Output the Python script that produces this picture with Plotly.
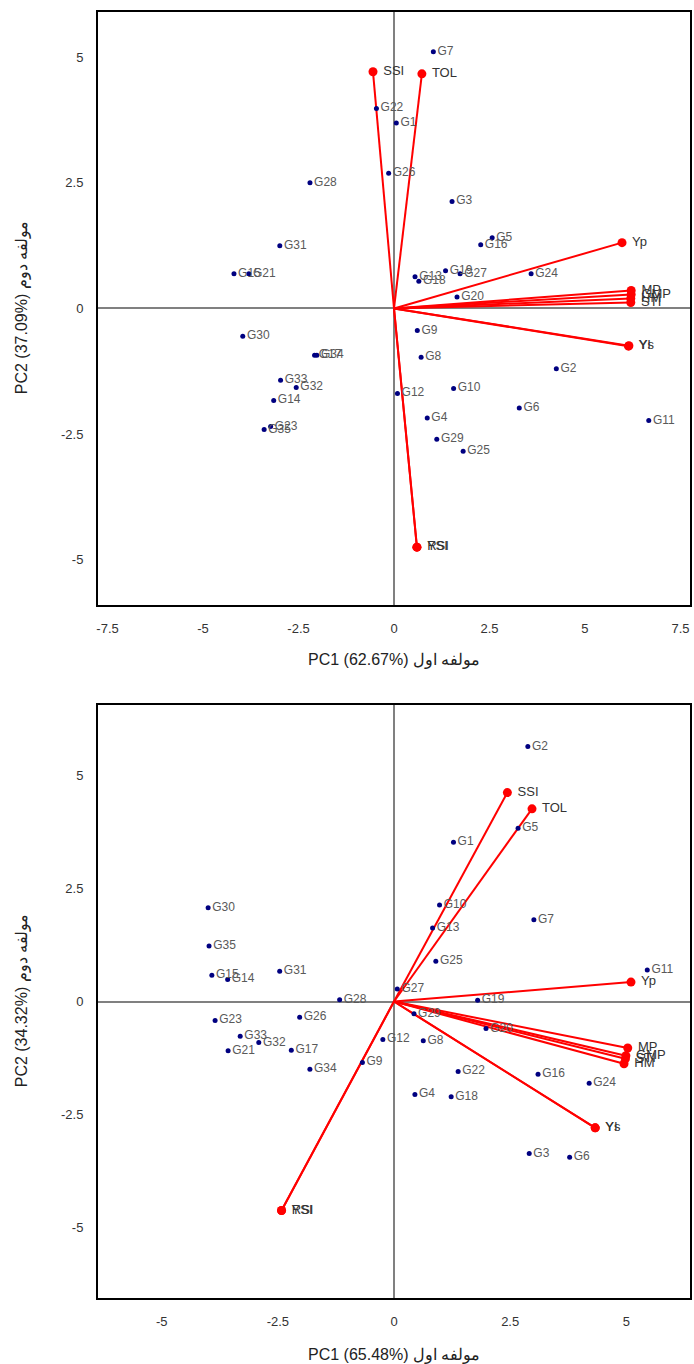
import plotly.graph_objects as go

# ---------------- data: top biplot ----------------
geno_names = ["G%d" % i for i in range(1, 36)]
top_pc1 = [0.06, 4.25, 1.52, 0.87, 2.57, 3.28, 1.03, 0.71, 0.61, 1.56,
           6.67, 0.09, 0.55, -3.15, -4.19, 2.27, -2.08, 0.65, 1.35, 1.65,
           -3.80, -0.46, -3.23, 3.59, 1.81, -0.14, 1.73, -2.20, 1.12, -3.96,
           -2.99, -2.56, -2.97, -2.02, -3.40]
top_pc2 = [3.69, -1.20, 2.13, -2.18, 1.41, -1.98, 5.11, -0.97, -0.44, -1.59,
           -2.23, -1.69, 0.63, -1.83, 0.69, 1.27, -0.93, 0.54, 0.75, 0.23,
           0.69, 3.98, -2.35, 0.69, -2.84, 2.69, 0.69, 2.50, -2.60, -0.55,
           1.25, -1.57, -1.43, -0.93, -2.41]

var_names = ["Yp", "Ys", "YI", "TOL", "SSI", "MP", "GMP", "HM", "STI", "YSI", "RSI"]
top_var_pc1 = [5.97, 6.15, 6.14, 0.73, -0.55, 6.21, 6.21, 6.20, 6.20, 0.60, 0.60]
top_var_pc2 = [1.31, -0.74, -0.75, 4.67, 4.71, 0.36, 0.28, 0.20, 0.12, -4.75, -4.75]

# ---------------- data: bottom biplot ----------------
bot_pc1 = [1.28, 2.88, 2.91, 0.45, 2.67, 3.78, 3.01, 0.63, -0.68, 0.98,
           5.45, -0.24, 0.83, -3.58, -3.92, 3.10, -2.21, 1.23, 1.80, 1.98,
           -3.57, 1.38, -3.85, 4.20, 0.90, -2.03, 0.07, -1.17, 0.43, -4.00,
           -2.46, -2.91, -3.31, -1.81, -3.98]
bot_pc2 = [3.53, 5.65, -3.37, -2.06, 3.84, -3.45, 1.81, -0.87, -1.35, 2.14,
           0.70, -0.84, 1.63, 0.49, 0.58, -1.61, -1.08, -2.11, 0.03, -0.60,
           -1.09, -1.55, -0.42, -1.81, 0.89, -0.35, 0.28, 0.04, -0.27, 2.08,
           0.67, -0.91, -0.77, -1.50, 1.23]

bot_var_pc1 = [5.10, 4.33, 4.33, 2.97, 2.44, 5.03, 4.99, 4.95, 4.98, -2.42, -2.42]
bot_var_pc2 = [0.43, -2.80, -2.80, 4.27, 4.63, -1.03, -1.20, -1.38, -1.27, -4.63, -4.63]

top_xticks = [-7.5, -5, -2.5, 0, 2.5, 5, 7.5]
top_xticktext = ["-7.5", "-5", "-2.5", "0", "2.5", "5", "7.5"]
top_yticks = [-5, -2.5, 0, 2.5, 5]
top_yticktext = ["-5", "-2.5", "0", "2.5", "5"]
bot_xticks = [-5, -2.5, 0, 2.5, 5]
bot_xticktext = ["-5", "-2.5", "0", "2.5", "5"]
bot_yticks = [-5, -2.5, 0, 2.5, 5]
bot_yticktext = ["-5", "-2.5", "0", "2.5", "5"]

top_xtitle = "PC1 (62.67%) مولفه اول"
top_ytitle = "PC2 (37.09%) مولفه دوم"
bot_xtitle = "PC1 (65.48%) مولفه اول"
bot_ytitle = "PC2 (34.32%) مولفه دوم"

FONT = "Liberation Sans Narrow, Liberation Sans, Arial, sans-serif"
RED = "#ff0000"
NAVY = "#000080"

fig = go.Figure()


def add_biplot(xa, ya, gx, gy, vx, vy):
    lx, ly = [], []
    for a, b in zip(vx, vy):
        lx += [0, a, None]
        ly += [0, b, None]
    fig.add_trace(go.Scatter(x=lx, y=ly, mode="lines", xaxis=xa, yaxis=ya,
                             line=dict(color=RED, width=2), hoverinfo="skip",
                             showlegend=False))
    fig.add_trace(go.Scatter(x=gx, y=gy, mode="markers+text", text=geno_names,
                             textposition="middle right", xaxis=xa, yaxis=ya,
                             marker=dict(color=NAVY, size=5),
                             textfont=dict(family="Liberation Sans, Arial", size=12, color="#595959"),
                             showlegend=False))
    fig.add_trace(go.Scatter(x=vx, y=vy, mode="markers+text",
                             text=[" " + v for v in var_names],
                             textposition="middle right", xaxis=xa, yaxis=ya,
                             marker=dict(color=RED, size=9),
                             textfont=dict(family="Liberation Sans, Arial", size=13, color="#333333"),
                             showlegend=False))


add_biplot("x", "y", top_pc1, top_pc2, top_var_pc1, top_var_pc2)
add_biplot("x2", "y2", bot_pc1, bot_pc2, bot_var_pc1, bot_var_pc2)

ax_common = dict(showgrid=False, zeroline=True, zerolinecolor="#808080", zerolinewidth=1.5,
                 showline=True, mirror=True, linecolor="#000000", linewidth=2,
                 ticks="", ticklabelstandoff=10,
                 tickfont=dict(family=FONT, size=13, color="#333333"))

title_font = dict(family=FONT, size=16, color="#222222")

fig.update_layout(
    width=694, height=1364,
    margin=dict(l=98, r=2, t=12, b=66),
    paper_bgcolor="white", plot_bgcolor="white",
    xaxis=dict(domain=[0, 1], anchor="y", range=[-7.75, 7.75],
               tickvals=top_xticks, ticktext=top_xticktext, **ax_common),
    yaxis=dict(domain=[0.5389, 1], anchor="x", range=[-5.9, 5.9],
               tickvals=top_yticks, ticktext=top_yticktext, **ax_common),
    xaxis2=dict(domain=[0, 1], anchor="y2", range=[-6.37, 6.37],
                tickvals=bot_xticks, ticktext=bot_xticktext, **ax_common),
    yaxis2=dict(domain=[0, 0.4611], anchor="x2", range=[-6.57, 6.57],
                tickvals=bot_yticks, ticktext=bot_yticktext, **ax_common),
    annotations=[
        dict(text=top_xtitle, xref="paper", yref="paper", x=0.5, y=0.4961,
             xanchor="center", yanchor="middle", showarrow=False, font=title_font),
        dict(text=bot_xtitle, xref="paper", yref="paper", x=0.5, y=-0.0443,
             xanchor="center", yanchor="middle", showarrow=False, font=title_font),
        dict(text=top_ytitle, xref="paper", yref="paper", x=-0.128, y=0.7698,
             xanchor="center", yanchor="middle",
             textangle=-90, showarrow=False, font=title_font),
        dict(text=bot_ytitle, xref="paper", yref="paper", x=-0.128, y=0.2309,
             xanchor="center", yanchor="middle",
             textangle=-90, showarrow=False, font=title_font),
    ],
)

fig.write_html("out.html")
